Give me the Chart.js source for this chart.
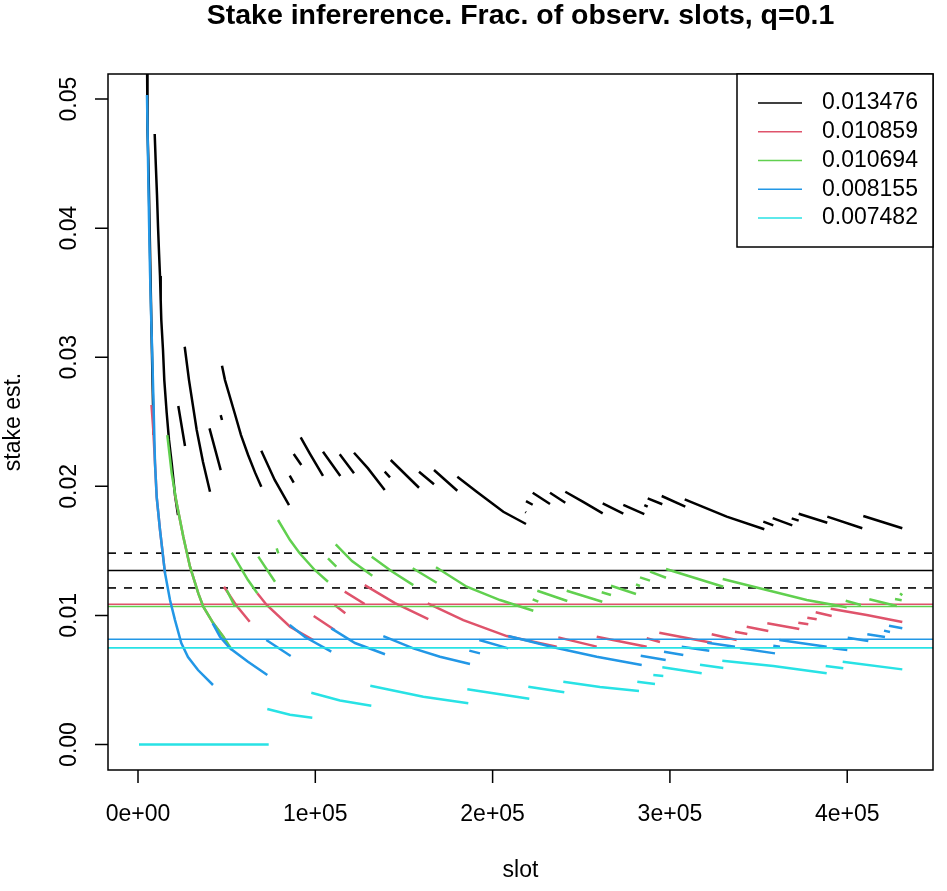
<!DOCTYPE html>
<html>
<head>
<meta charset="utf-8">
<script src="https://cdn.jsdelivr.net/npm/chart.js@4/dist/chart.umd.min.js"></script>
<style>
html, body { margin: 0; padding: 0; background: #fff; }
#wrap { width: 947px; height: 891px; position: relative; }
</style>
</head>
<body>
<div id="wrap"><canvas id="stakeChart"></canvas></div>
<script>
// axis ticks
const slotTicks = [0, 100000, 200000, 300000, 400000];
const slotTickLabels = ["0e+00", "1e+05", "2e+05", "3e+05", "4e+05"];
const stakeTicks = [0, 0.01, 0.02, 0.03, 0.04, 0.05];
const stakeTickLabels = ["0.00", "0.01", "0.02", "0.03", "0.04", "0.05"];

// true stakes (legend) and the +-10% band around the first one
const trueStakes = [0.013476, 0.010859, 0.010694, 0.008155, 0.007482];
const stakeNames = ["0.013476", "0.010859", "0.010694", "0.008155", "0.007482"];
const bandLow = 0.012128;
const bandHigh = 0.014824;

// estimate segments, [slot, stake est.]
const black = [
	[[5076,0.0538],[5358,0.0476],[5809,0.04535],[6373,0.0414],[6937,0.03714],[7614,0.03211],[8178,0.02823],[8855,0.02397]],
	[[9419,0.04729],[9983,0.04512],[10716,0.04256],[11280,0.04016],[11844,0.03815],[12408,0.03629],[12803,0.03443],[13141,0.03288],[14100,0.03056],[14833,0.02823],[16187,0.02568],[17484,0.02359],[19007,0.0218],[20868,0.01933],[22560,0.01778]],
	[[22729,0.02622],[26508,0.02312]],
	[[26339,0.03081],[28764,0.02823],[33107,0.02436],[36660,0.02188],[40608,0.01958]],
	[[40326,0.02449],[46643,0.02126]],
	[[46643,0.02552],[47376,0.02514]],
	[[47376,0.02934],[49068,0.02823],[54539,0.02566],[58092,0.02397],[62040,0.02245],[65988,0.02108],[69541,0.01997]],
	[[69541,0.02276],[77099,0.02049],[85164,0.01855]],
	[[85559,0.02082],[87815,0.02028]],
	[[87815,0.0225],[92101,0.02165]],
	[[91763,0.0238],[96839,0.02256],[104340,0.0208]],
	[[104340,0.02268],[114097,0.0208]],
	[[113759,0.02248],[121824,0.02101]],
	[[121824,0.0226],[129720,0.02139],[139139,0.01971]],
	[[139139,0.02113],[142128,0.0207]],
	[[142523,0.02204],[158484,0.01989]],
	[[158484,0.02113],[166944,0.02016]],
	[[166944,0.02126],[180085,0.01966]],
	[[180085,0.02074],[191027,0.01958],[206029,0.01803],[218832,0.01708]],
	[[218437,0.01801],[218832,0.01797]],
	[[218832,0.01886],[222611,0.01857]],
	[[222611,0.0195],[232368,0.01863]],
	[[232368,0.0195],[240997,0.01873]],
	[[240997,0.01958],[251544,0.01875],[262091,0.01791]],
	[[262091,0.01868],[273709,0.01788]],
	[[273709,0.01857],[285553,0.01785]],
	[[285553,0.01855],[287471,0.01842]],
	[[287471,0.01907],[295705,0.01861]],
	[[295367,0.01925],[308677,0.01842]],
	[[308339,0.01899],[332027,0.01765],[353233,0.01667]],
	[[352669,0.01726],[358309,0.01698]],
	[[357971,0.01754],[369025,0.01698]],
	[[368687,0.01752],[372635,0.01734]],
	[[372635,0.01788],[388765,0.01718]],
	[[388765,0.01765],[408505,0.01675]],
	[[409069,0.0177],[431065,0.01675]]
];

const red = [
	[[7614,0.0263],[8629,0.02436],[9588,0.0218],[10547,0.01917],[12408,0.01662],[15228,0.01328]],
	[[20868,0.01933],[25549,0.0161],[29328,0.01377],[34009,0.01171],[36829,0.01067],[42469,0.00939],[48109,0.00835],[50760,0.00771]],
	[[48504,0.01222],[55272,0.01081],[62999,0.00951]],
	[[67285,0.01171],[72587,0.01081],[85728,0.00912],[98869,0.00809]],
	[[99095,0.00995],[110939,0.00887]],
	[[110939,0.01081],[116917,0.01016]],
	[[116579,0.01184],[127859,0.01088]],
	[[127859,0.01235],[144948,0.01095],[163729,0.00972]],
	[[163391,0.01094],[183469,0.00964],[207947,0.0084],[236147,0.00758]],
	[[237049,0.0083],[258707,0.00758]],
	[[258707,0.00835],[286907,0.00758]],
	[[286907,0.00823],[294408,0.00794]],
	[[294013,0.00866],[323567,0.00789]],
	[[323567,0.00854],[337667,0.00809]],
	[[336708,0.00874],[343645,0.00856]],
	[[343307,0.00912],[355489,0.00879]],
	[[354925,0.00939],[372973,0.00895]],
	[[372409,0.00943],[378049,0.00931]],
	[[377485,0.00982],[382787,0.0097]],
	[[382223,0.01024],[391247,0.00995]],
	[[390683,0.01052],[410987,0.01003],[431065,0.00949]]
];

const green = [
	[[16525,0.02397],[19007,0.02101],[21827,0.01868],[25549,0.0161],[29328,0.01377],[34009,0.01171],[36829,0.01067],[42469,0.00939],[48109,0.00835],[53016,0.00732]],
	[[52847,0.01486],[62040,0.01274],[67285,0.01171]],
	[[50027,0.01197],[54708,0.01067]],
	[[67849,0.01455],[77268,0.01261]],
	[[78227,0.0152],[79129,0.01481]],
	[[78960,0.01739],[85728,0.01584],[91199,0.01481],[99659,0.01352],[107160,0.01261]],
	[[107160,0.01442],[111841,0.01377]],
	[[111503,0.01551],[120696,0.01421],[132145,0.01308]],
	[[131807,0.01455],[143256,0.0134],[155269,0.01235]],
	[[154931,0.01365],[168467,0.01253]],
	[[168072,0.01373],[185387,0.01222],[204168,0.01119],[222949,0.01036]],
	[[222611,0.01125],[225769,0.01106]],
	[[225205,0.01191],[242125,0.01112]],
	[[241787,0.01191],[261865,0.01106]],
	[[261527,0.01179],[266772,0.01158]],
	[[266772,0.0123],[280872,0.01166]],
	[[280872,0.01241],[283128,0.01228]],
	[[283128,0.01295],[288768,0.01269]],
	[[288768,0.01339],[297792,0.01292]],
	[[297792,0.01359],[330109,0.01222]],
	[[329771,0.01282],[354587,0.01197],[377147,0.01119],[399707,0.01063]],
	[[399143,0.01114],[407772,0.01081]],
	[[412453,0.01125],[427907,0.01073]],
	[[426948,0.01127],[430727,0.01117]],
	[[429768,0.01171],[431065,0.01156]]
];

const blue = [
	[[5076,0.05031],[5640,0.04535],[6204,0.04071],[6768,0.03668],[7501,0.03273],[8065,0.03002],[8629,0.02707],[9588,0.0218],[10547,0.01917],[12408,0.01662],[15228,0.01328],[18048,0.01119],[20868,0.00964],[24421,0.00786],[28200,0.00678],[33840,0.00577],[42300,0.00461]],
	[[42131,0.00939],[46248,0.00835],[51888,0.00745],[62040,0.00641],[72925,0.00538]],
	[[72361,0.00809],[86123,0.00686]],
	[[85559,0.00926],[94188,0.00833],[109021,0.00719]],
	[[109021,0.009],[122388,0.00786],[139308,0.00699]],
	[[138349,0.0084],[155269,0.00745],[170328,0.0068],[187248,0.00624]],
	[[186853,0.00727],[192888,0.00706]],
	[[192493,0.00809],[208849,0.00745]],
	[[208849,0.0084],[234229,0.00753],[258707,0.0068],[284087,0.00616]],
	[[283523,0.00688],[297623,0.00655]],
	[[296664,0.00719],[307549,0.00693]],
	[[306647,0.00758],[322213,0.00727]],
	[[321085,0.00789],[336708,0.00758]],
	[[339528,0.00745],[359268,0.00706]],
	[[358309,0.00765],[362088,0.00758]],
	[[361693,0.00809],[388427,0.00758]],
	[[391811,0.00745],[400045,0.00732]],
	[[400271,0.00827],[411889,0.00802]],
	[[411325,0.00854],[421308,0.00833]],
	[[420744,0.00882],[424128,0.00871]],
	[[423564,0.0092],[431065,0.009]]
];

const cyan = [
	[[564,0],[73715,0]],
	[[72925,0.00275],[85728,0.00231],[98305,0.00208]],
	[[97741,0.00401],[113928,0.00341],[131581,0.00301]],
	[[131017,0.00455],[160909,0.0037],[186289,0.00319]],
	[[185725,0.00428],[220693,0.00355]],
	[[220129,0.00448],[240433,0.00404]],
	[[239869,0.00486],[260568,0.00445],[282564,0.00414]],
	[[281605,0.00486],[291588,0.00469]],
	[[290629,0.00538],[296269,0.00531]],
	[[295705,0.00598],[317927,0.00552]],
	[[316968,0.00618],[330109,0.00593]],
	[[329545,0.00649],[358309,0.00608],[388427,0.00552]],
	[[387863,0.00608],[397789,0.0059]],
	[[397451,0.00641],[431065,0.00582]]
];

const seriesSegs = [black, red, green, blue, cyan];
const colors = ["#000000", "#DF536B", "#61D04F", "#2297E6", "#28E2E5"];

const xMin = -16920, xMax = 448380;
const yMin = -0.001975, yMax = 0.05194;
const FONT = '"Liberation Sans", Arial, Helvetica, sans-serif';

// flatten segments with null breaks
function toPoints(segs) {
	const pts = [];
	segs.forEach(function (seg) {
		seg.forEach(function (p) { pts.push({ x: p[0], y: p[1] }); });
		pts.push({ x: seg[seg.length - 1][0], y: null });
	});
	return pts;
}

function hline(v, color, dash) {
	return {
		data: [{ x: xMin, y: v }, { x: xMax, y: v }],
		borderColor: color,
		borderWidth: 1.6,
		borderDash: dash || [],
	};
}

const datasets = [];
seriesSegs.forEach(function (segs, i) {
	datasets.push({ data: toPoints(segs), borderColor: colors[i], borderWidth: 2.5 });
	datasets.push(hline(trueStakes[i], colors[i]));
	if (i === 0) {
		datasets.push(hline(bandHigh, "#000000", [8, 8]));
		datasets.push(hline(bandLow, "#000000", [8, 8]));
	}
});
// first dataset at the bottom
datasets.forEach(function (d, i) {
	d.order = datasets.length - i;
	d.pointRadius = 0;
	d.tension = 0;
	d.spanGaps = false;
	d.fill = false;
});

// R style box, axes, title and legend
const rFrame = {
	id: "rFrame",
	afterDraw: function (chart) {
		const ctx = chart.ctx;
		const a = chart.chartArea;
		const xs = chart.scales.x;
		const ys = chart.scales.y;
		ctx.save();
		ctx.strokeStyle = "#000";
		ctx.fillStyle = "#000";
		ctx.lineWidth = 1.5;
		ctx.strokeRect(a.left, a.top, a.right - a.left, a.bottom - a.top);

		// x axis
		ctx.beginPath();
		slotTicks.forEach(function (v) {
			const px = xs.getPixelForValue(v);
			ctx.moveTo(px, a.bottom);
			ctx.lineTo(px, a.bottom + 13);
		});
		ctx.stroke();
		ctx.font = "23px " + FONT;
		ctx.textAlign = "center";
		ctx.textBaseline = "middle";
		slotTicks.forEach(function (v, i) {
			ctx.fillText(slotTickLabels[i], xs.getPixelForValue(v), 815);
		});
		ctx.fillText("slot", (a.left + a.right) / 2, 871);

		// y axis
		ctx.beginPath();
		stakeTicks.forEach(function (v) {
			const py = ys.getPixelForValue(v);
			ctx.moveTo(a.left, py);
			ctx.lineTo(a.left - 13, py);
		});
		ctx.stroke();
		stakeTicks.forEach(function (v, i) {
			ctx.save();
			ctx.translate(70, ys.getPixelForValue(v));
			ctx.rotate(-Math.PI / 2);
			ctx.fillText(stakeTickLabels[i], 0, 0);
			ctx.restore();
		});
		ctx.save();
		ctx.translate(14, (a.top + a.bottom) / 2);
		ctx.rotate(-Math.PI / 2);
		ctx.fillText("stake est.", 0, 0);
		ctx.restore();

		// title
		ctx.font = "bold 28.5px " + FONT;
		ctx.fillText("Stake infererence. Frac. of observ. slots, q=0.1", (a.left + a.right) / 2, 16);

		// legend
		const lx = 737, ly = a.top, lw = a.right - 737, lh = 173;
		ctx.fillStyle = "#fff";
		ctx.fillRect(lx, ly, lw, lh);
		ctx.strokeStyle = "#000";
		ctx.strokeRect(lx, ly, lw, lh);
		ctx.font = "23px " + FONT;
		ctx.textAlign = "left";
		stakeNames.forEach(function (name, i) {
			const ry = 103 + i * 28.75;
			ctx.strokeStyle = colors[i];
			ctx.lineWidth = 1.5;
			ctx.beginPath();
			ctx.moveTo(758, ry);
			ctx.lineTo(802, ry);
			ctx.stroke();
			ctx.fillStyle = "#000";
			ctx.fillText(name, 822, ry);
		});
		ctx.restore();
	},
};

new Chart(document.getElementById("stakeChart"), {
	type: "line",
	data: { datasets: datasets },
	options: {
		responsive: true,
		maintainAspectRatio: false,
		animation: false,
		events: [],
		layout: {
			padding: { left: 108, top: 74, right: 14, bottom: 121 },
		},
		plugins: {
			legend: { display: false },
			tooltip: { enabled: false },
		},
		scales: {
			x: { type: "linear", min: xMin, max: xMax, display: false },
			y: { type: "linear", min: yMin, max: yMax, display: false },
		},
	},
	plugins: [rFrame],
});
</script>
</body>
</html>
